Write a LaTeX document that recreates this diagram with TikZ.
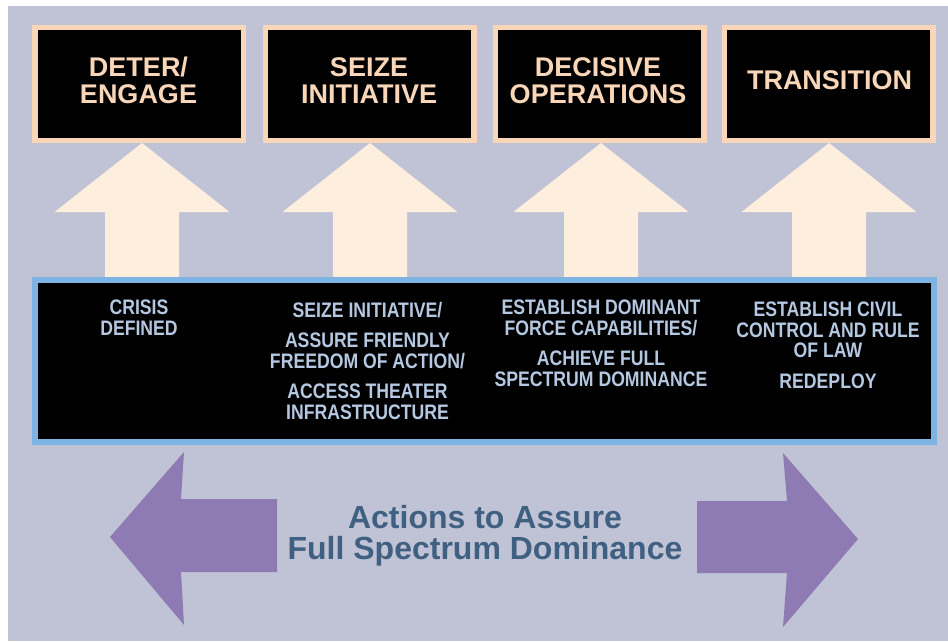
\documentclass[tikz,border=0pt]{standalone}
\usepackage{fontspec}
\setmainfont{Liberation Sans}
\newfontfamily\narrowfont{Liberation Sans}[FakeStretch=0.84]
\definecolor{bg}{HTML}{C0C3D6}
\definecolor{peach}{HTML}{F9D6B7}
\definecolor{cream}{HTML}{FDEEDE}
\definecolor{skyblue}{HTML}{7DB4E4}
\definecolor{textblue}{HTML}{B4C8E1}
\definecolor{purple}{HTML}{8F7BB3}
\definecolor{navy}{HTML}{3F6080}
\begin{document}
\begin{tikzpicture}[x=1pt,y=-1pt,
  phase/.style={draw=peach, line width=5.5pt, fill=black, minimum width=208.5pt, minimum height=112.5pt, inner sep=0pt},
  phasetxt/.style={text=peach, font=\bfseries\fontsize{27}{27}\selectfont, align=center, inner sep=0pt, anchor=north},
  plan/.style={draw=skyblue, line width=6pt, fill=black, minimum width=899pt, minimum height=162pt, inner sep=0pt},
  coltxt/.style={text=textblue, font=\narrowfont\bfseries\fontsize{21}{20.5}\selectfont, align=center, inner sep=0pt, anchor=north},
  uparrow/.style={fill=cream},
  sidearrow/.style={fill=purple},
  bottomtxt/.style={text=navy, font=\bfseries\fontsize{32}{31}\selectfont, align=center, inner sep=0pt, anchor=north}]
\useasboundingbox (0,0) rectangle (948,642);
\fill[white] (0,0) rectangle (948,642);
\fill[bg] (8,6) rectangle (948,641);

% up arrows
\foreach \x/\n in {142/1,370/2,601/3,829/4}{
  \coordinate (tip\n) at (\x,143);
  \fill[uparrow] (tip\n) -- ++(87.5,69) -- ++(-50.5,0) -- ++(0,70) -- ++(-74,0) -- ++(0,-70) -- ++(-50.5,0) -- cycle;
}

% phase boxes
\node[phase] (b1) at (139,84) {};
\node[phase] (b2) at (369.5,84) {};
\node[phase] (b3) at (599.5,84) {};
\node[phase] (b4) at (828.5,84) {};
\node[phasetxt] (t1) at (138.5,57) {DETER/\\ENGAGE};
\node[phasetxt] (t2) at (369,57) {SEIZE\\INITIATIVE};
\node[phasetxt] (t3) at (598,57) {DECISIVE\\OPERATIONS};
\node[phasetxt] (t4) at (829.5,70) {TRANSITION};

% plan box
\node[plan] (p) at (484.5,361) {};
\node[coltxt] (c1) at (139,300) {CRISIS\\DEFINED};
\node[coltxt] (c2) at (367.5,302) {SEIZE INITIATIVE/\\[10pt]ASSURE FRIENDLY\\FREEDOM OF ACTION/\\[10pt]ACCESS THEATER\\INFRASTRUCTURE};
\node[coltxt] (c3) at (601,300) {ESTABLISH DOMINANT\\FORCE CAPABILITIES/\\[10pt]ACHIEVE FULL\\SPECTRUM DOMINANCE};
\node[coltxt] (c4) at (828,302) {ESTABLISH CIVIL\\CONTROL AND RULE\\OF LAW\\[10pt]REDEPLOY};

% side arrows
\fill[sidearrow] (110,537) -- (184,452) -- (181,499) -- (277,499) -- (277,572) -- (181,572) -- (184,625) -- cycle;
\fill[sidearrow] (858,539) -- (783,453) -- (787,501) -- (697,501) -- (697,573) -- (787,573) -- (783,627) -- cycle;

\node[bottomtxt] (a) at (485,505) {Actions to Assure\\Full Spectrum Dominance};
\end{tikzpicture}
\end{document}
